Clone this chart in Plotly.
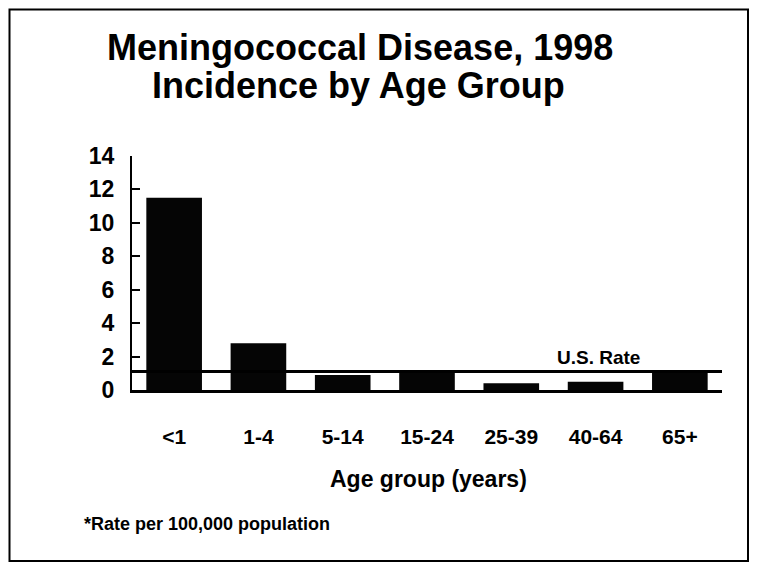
import plotly.graph_objects as go

categories = ["<1", "1-4", "5-14", "15-24", "25-39", "40-64", "65+"]
incidence = [11.5, 2.8, 0.9, 1.2, 0.4, 0.5, 1.2]
us_rate = 1.1
y_ticks = [0, 2, 4, 6, 8, 10, 12, 14]

title_line1 = "Meningococcal Disease, 1998"
title_line2 = "Incidence by Age Group"
x_title = "Age group (years)"
footnote = "*Rate per 100,000 population"
rate_label = "U.S. Rate"

FONT = "Liberation Sans, Arial, sans-serif"

fig = go.Figure()
fig.add_trace(go.Bar(
    x=categories, y=incidence,
    marker=dict(color="#050505", line=dict(width=0)),
    showlegend=False, hoverinfo="x+y",
))

# page body has an 8px margin, so figure pixel = screen pixel - 8
OFF = 8
W, H = 758, 566
L, R = 132 - OFF, 36 + OFF
T, B = 156 - OFF, 176 + OFF
pw, ph = W - L - R, H - T - B

def px_x(px):
    return (px - OFF - L) / pw

def px_y(py):
    return (H - B - (py - OFF)) / ph

fig.update_layout(
    width=W, height=H,
    margin=dict(l=L, r=R, t=T, b=B, pad=0),
    paper_bgcolor="white", plot_bgcolor="white",
    bargap=0.34,
    font=dict(family=FONT, color="black", weight="bold"),
    xaxis=dict(
        type="category", showline=True, linecolor="black", linewidth=3,
        ticks="", showgrid=False, zeroline=False,
        tickfont=dict(size=21, family=FONT, weight="bold"),
        ticklabelstandoff=26,
    ),
    yaxis=dict(
        range=[0, 14], tickvals=y_ticks, ticktext=[str(v) for v in y_ticks],
        showline=True, linecolor="black", linewidth=2,
        ticks="inside", ticklen=8, tickwidth=2, tickcolor="black",
        showgrid=False, zeroline=False,
        tickfont=dict(size=23, family=FONT, weight="bold"),
        ticklabelstandoff=11,
    ),
    shapes=[
        dict(type="line", xref="paper", yref="y", x0=0, x1=1, y0=us_rate, y1=us_rate,
             line=dict(color="black", width=3)),
        dict(type="rect", xref="paper", yref="paper",
             x0=px_x(9.5), x1=px_x(748), y0=px_y(561), y1=px_y(9.5),
             line=dict(color="black", width=2)),
    ],
    annotations=[
        dict(text=title_line1, xref="paper", yref="paper", x=px_x(360), y=px_y(47),
             xanchor="center", yanchor="middle", showarrow=False,
             font=dict(size=36, family=FONT, weight="bold")),
        dict(text=title_line2, xref="paper", yref="paper", x=px_x(358), y=px_y(86),
             xanchor="center", yanchor="middle", showarrow=False,
             font=dict(size=36, family=FONT, weight="bold")),
        dict(text=x_title, xref="paper", yref="paper", x=px_x(429), y=px_y(479),
             xanchor="center", yanchor="middle", showarrow=False,
             font=dict(size=23, family=FONT, weight="bold")),
        dict(text=footnote, xref="paper", yref="paper", x=px_x(82), y=px_y(524),
             xanchor="left", yanchor="middle", showarrow=False,
             font=dict(size=18, family=FONT, weight="bold")),
        dict(text=rate_label, xref="x", yref="y", x="40-64", y=us_rate,
             xanchor="center", yanchor="bottom", xshift=3, yshift=2, showarrow=False,
             font=dict(size=19, family=FONT, weight="bold")),
    ],
)

fig.write_html("out.html")
